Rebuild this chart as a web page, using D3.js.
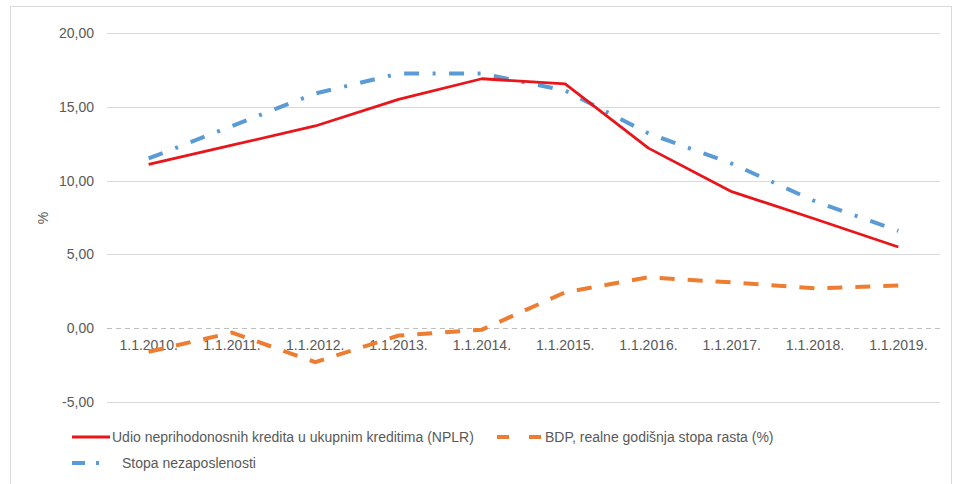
<!DOCTYPE html>
<html><head><meta charset="utf-8">
<script src="https://cdn.jsdelivr.net/npm/d3@7"></script>
<style>body{margin:0;background:#fff;}svg{display:block;font-family:"Liberation Sans",Arial,sans-serif;}</style>
</head><body><svg id="c" width="960" height="484"></svg>
<script>
const categories = ["1.1.2010.","1.1.2011.","1.1.2012.","1.1.2013.","1.1.2014.","1.1.2015.","1.1.2016.","1.1.2017.","1.1.2018.","1.1.2019."];
const nplr = [11.1, 12.4, 13.7, 15.5, 16.9, 16.55, 12.2, 9.25, 7.4, 5.5];
const bdp = [-1.6, -0.3, -2.3, -0.5, -0.1, 2.43, 3.45, 3.1, 2.7, 2.9];
const unemployment = [11.5, 13.7, 15.9, 17.25, 17.25, 16.1, 13.2, 11.15, 8.6, 6.6];
const yTicks = [-5, 0, 5, 10, 15, 20];
const seriesNames = ["Udio neprihodonosnih kredita u ukupnim kreditima (NPLR)", "BDP, realne godišnja stopa rasta (%)", "Stopa nezaposlenosti"];

const svg = d3.select("#c");
svg.append("rect").attr("x",10.5).attr("y",6.5).attr("width",941).attr("height",490)
  .attr("fill","none").attr("stroke","#d9d9d9");

const x = d3.scaleBand().domain(categories).range([107, 940]).padding(0);
const xc = d => x(d) + x.bandwidth()/2;
const y = d3.scaleLinear().domain([-5, 20]).range([402, 33]);

// gridlines
const grid = svg.append("g");
grid.selectAll("line").data(yTicks).join("line")
  .attr("x1",107).attr("x2",940)
  .attr("y1",d=>Math.round(y(d))+0.5).attr("y2",d=>Math.round(y(d))+0.5)
  .attr("stroke",d=> d===0 ? "#bfbfbf" : "#d9d9d9")
  .attr("stroke-width",1)
  .attr("stroke-dasharray",d=> d===0 ? "5 4" : null);

// y axis labels
const fmt = d => d3.format(".2f")(d).replace(".", ",").replace("−","-");
const yAxis = d3.axisLeft(y).tickValues(yTicks).tickFormat(fmt).tickSize(0).tickPadding(0);
const gy = svg.append("g").attr("transform","translate(94,0)").call(yAxis);
gy.select(".domain").remove();
gy.selectAll("text").attr("font-size",14).attr("fill","#595959").attr("font-family","Liberation Sans, Arial, sans-serif");

// x labels
const xAxis = d3.axisBottom(x).tickSize(0).tickPadding(0);
const gx = svg.append("g").attr("transform", `translate(0,${y(0)+12})`).call(xAxis);
gx.select(".domain").remove();
gx.selectAll("text").attr("font-size",14).attr("fill","#595959").attr("font-family","Liberation Sans, Arial, sans-serif");

// y title
svg.append("text").attr("transform","translate(48,218) rotate(-90)")
  .attr("text-anchor","middle").attr("font-size",14).attr("fill","#595959").text("%");

const line = d3.line().x((d,i)=>xc(categories[i])).y(d=>y(d));

svg.append("path").datum(bdp).attr("d",line).attr("fill","none")
  .attr("stroke","#ed7d31").attr("stroke-width",4).attr("stroke-dasharray","15 13");
svg.append("path").datum(unemployment).attr("d",line).attr("fill","none")
  .attr("stroke","#5b9bd5").attr("stroke-width",4).attr("stroke-dasharray","15 13.5 3 13.5");
svg.append("path").datum(nplr).attr("d",line).attr("fill","none")
  .attr("stroke","#e8161b").attr("stroke-width",2.8).attr("stroke-linejoin","round");

// legend
const leg = svg.append("g").attr("font-size",14).attr("fill","#595959");
leg.append("line").attr("x1",72).attr("x2",110).attr("y1",437).attr("y2",437)
  .attr("stroke","#e8161b").attr("stroke-width",2.8);
leg.append("text").attr("x",112).attr("y",442).attr("fill","#595959").text(seriesNames[0]);
leg.append("line").attr("x1",497).attr("x2",541).attr("y1",437).attr("y2",437)
  .attr("stroke","#ed7d31").attr("stroke-width",4).attr("stroke-dasharray","12 20");
leg.append("text").attr("x",545).attr("y",442).attr("fill","#595959").text(seriesNames[1]);
leg.append("line").attr("x1",72).attr("x2",106).attr("y1",463).attr("y2",463)
  .attr("stroke","#5b9bd5").attr("stroke-width",4).attr("stroke-dasharray","13 11 3 20");
leg.append("text").attr("x",122).attr("y",468).attr("fill","#595959").text(seriesNames[2]);
</script></body></html>
